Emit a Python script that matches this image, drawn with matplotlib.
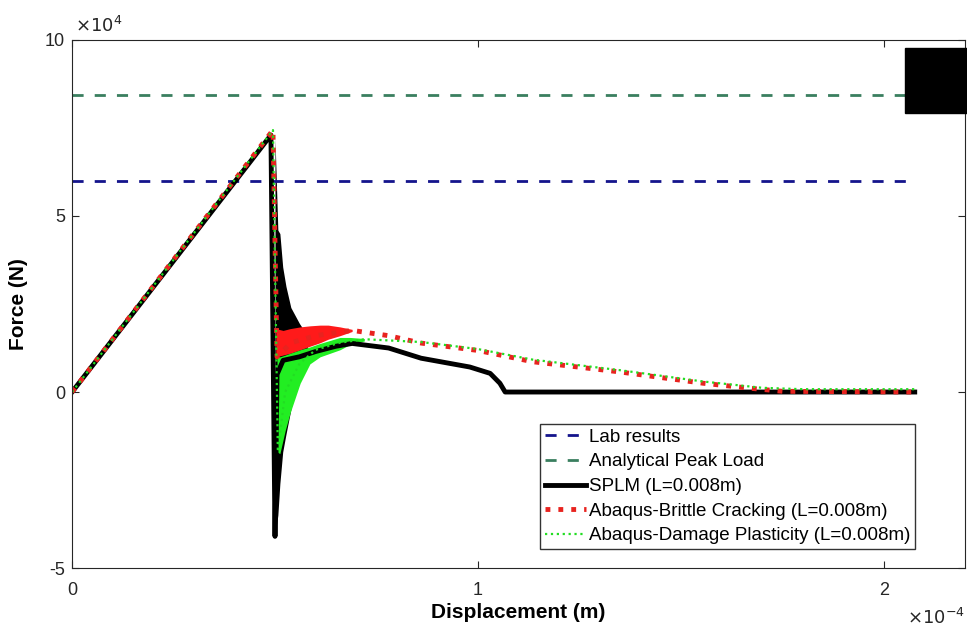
import matplotlib.pyplot as plt
import matplotlib
from matplotlib.patches import Rectangle

matplotlib.rcParams['font.family'] = ['Liberation Sans', 'DejaVu Sans']

# displacement in units of 1e-4 m, force in units of 1e4 N
lab_load = 6.0
analytical_load = 8.45
ref_x = [0.0, 2.06]

# SPLM main curve
splm_x = [0.0, 0.490, 0.500, 0.505, 0.520, 0.560, 0.600, 0.650, 0.690, 0.780, 0.860, 0.980, 1.030, 1.054, 1.067, 2.076]
splm_y = [0.0, 7.30, -4.10, 0.50, 0.90, 1.00, 1.15, 1.30, 1.38, 1.25, 0.96, 0.71, 0.53, 0.25, 0.00, 0.00]
# SPLM oscillation envelope just after the peak
splm_band_x = [0.500, 0.507, 0.512, 0.519, 0.527, 0.539, 0.560, 0.580]
splm_band_hi = [7.20, 4.60, 4.50, 3.55, 3.00, 2.40, 1.95, 1.60]
splm_band_lo = [-4.10, -3.50, -2.60, -1.70, -1.20, -0.50, 0.60, 0.95]

# Abaqus brittle cracking
bc_x = [0.0, 0.495, 0.505, 0.540, 0.600, 0.690, 0.780, 0.860, 1.000, 1.135, 1.350, 1.554, 1.677, 1.750, 2.076]
bc_y = [0.0, 7.44, 1.00, 1.40, 1.60, 1.75, 1.60, 1.39, 1.18, 0.86, 0.57, 0.25, 0.10, 0.02, 0.00]
bc_band_x = [0.502, 0.520, 0.537, 0.562, 0.586, 0.611, 0.631, 0.660, 0.690]
bc_band_hi = [1.80, 1.75, 1.80, 1.85, 1.88, 1.90, 1.90, 1.85, 1.78]
bc_band_lo = [1.00, 1.05, 1.10, 1.20, 1.30, 1.40, 1.50, 1.60, 1.72]

# Abaqus damage plasticity
dp_x = [0.0, 0.495, 0.507, 0.525, 0.560, 0.600, 0.660, 0.720, 0.860, 1.000, 1.135, 1.350, 1.554, 1.700, 1.800, 2.076]
dp_y = [0.0, 7.44, -1.70, 0.00, 0.80, 1.20, 1.40, 1.50, 1.42, 1.22, 0.92, 0.62, 0.30, 0.12, 0.08, 0.08]
dp_band_x = [0.505, 0.512, 0.525, 0.537, 0.562, 0.586, 0.611, 0.660, 0.685, 0.720]
dp_band_hi = [1.00, 1.00, 1.05, 1.10, 1.20, 1.28, 1.38, 1.55, 1.55, 1.52]
dp_band_lo = [-1.70, -1.75, -1.10, -0.60, 0.25, 0.80, 1.00, 1.20, 1.35, 1.45]

fig = plt.figure(figsize=(9.67, 6.34), dpi=100)
ax = fig.add_axes([0.0745, 0.104, 0.9235, 0.833])

ax.plot(ref_x, [lab_load] * 2, '--', color='#14148c', lw=2, dashes=(4, 4), label='Lab results')
ax.plot(ref_x, [analytical_load] * 2, '--', color='#3a7f5f', lw=2, dashes=(4, 4), label='Analytical Peak Load')

ax.fill_between(splm_band_x, splm_band_lo, splm_band_hi, color='black', lw=0)
ax.plot(splm_x, splm_y, '-', color='black', lw=3.5, label='SPLM (L=0.008m)')

ax.fill_between(bc_band_x, bc_band_lo, bc_band_hi, color='#ff1a1a', lw=0)
ax.plot(bc_x, bc_y, ':', color='#e8231f', lw=3.5, label='Abaqus-Brittle Cracking (L=0.008m)')

ax.fill_between(dp_band_x, dp_band_lo, dp_band_hi, color='#22ee22', lw=0)
ax.plot(dp_x, dp_y, ':', color='#22dd22', lw=1.6, label='Abaqus-Damage Plasticity (L=0.008m)')

ax.set_xlim(0, 2.2)
ax.set_ylim(-5, 10)
ax.set_xticks([0, 1, 2])
ax.set_xticklabels(['0', '1', '2'])
ax.set_yticks([-5, 0, 5, 10])
ax.set_yticklabels(['-5', '0', '5', '10'])
ax.tick_params(direction='in', top=True, right=True, labelsize=13, colors='#262626', length=5)
ax.tick_params(axis='x', pad=10)
ax.tick_params(axis='y', pad=5)
for s in ax.spines.values():
    s.set_color('#262626')

ax.set_xlabel('Displacement (m)', fontsize=15, fontweight='bold', labelpad=3)
ax.set_ylabel('Force (N)', fontsize=15, fontweight='bold', labelpad=12)
ax.text(0.003, 1.008, r'$\times10^{4}$', transform=ax.transAxes, fontsize=13, color='#262626', va='bottom', ha='left')
ax.text(1.0, -0.075, r'$\times10^{-4}$', transform=ax.transAxes, fontsize=13, color='#262626', va='top', ha='right')

leg = ax.legend(loc='lower right', bbox_to_anchor=(0.944, 0.036), fontsize=13.5, frameon=True, fancybox=False,
                edgecolor='black', handlelength=2.2, handletextpad=0.15, borderpad=0.25, labelspacing=0.4,
                borderaxespad=0)
leg.get_frame().set_linewidth(1)

# black block in the top right corner of the reference
fig.patches.append(Rectangle((0.936, 0.822), 0.064, 0.102, transform=fig.transFigure, color='black', zorder=10))

fig.savefig('out.png', dpi=100)
